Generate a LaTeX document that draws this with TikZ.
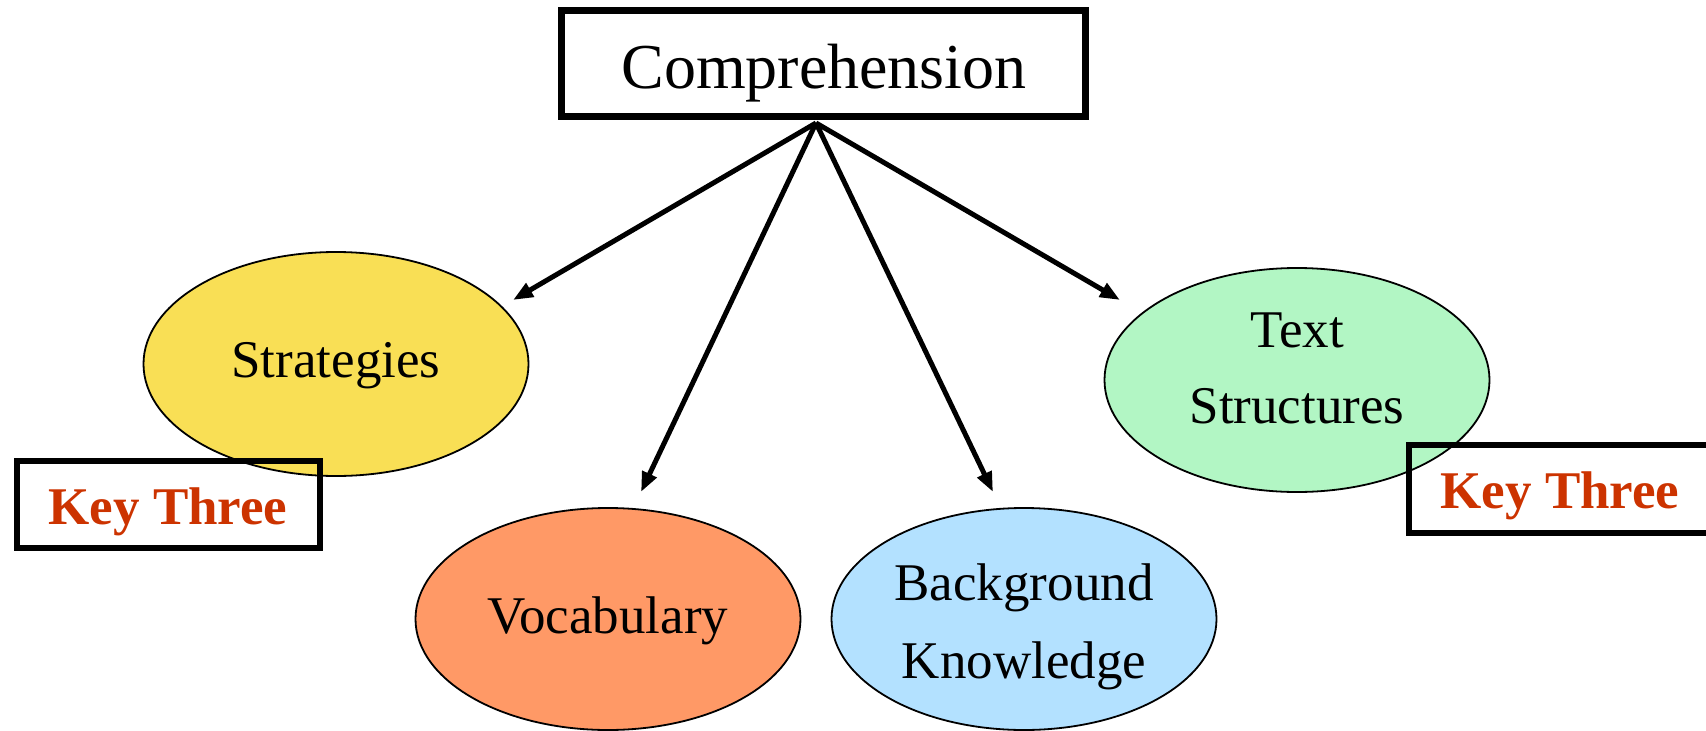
\documentclass[tikz,border=0pt]{standalone}
\usepackage{fontspec}
\setmainfont{Liberation Serif}
\usetikzlibrary{shapes.geometric,arrows.meta}

\definecolor{stratfill}{HTML}{F9DF55}
\definecolor{vocabfill}{HTML}{FF9966}
\definecolor{bgfill}{HTML}{B3E1FF}
\definecolor{textfill}{HTML}{B2F6C4}
\definecolor{keyred}{RGB}{204,51,0}

\begin{document}
\begin{tikzpicture}[x=1pt,y=-1pt,
  bubble/.style={ellipse, draw=black, line width=1.8pt, inner sep=0pt,
                 minimum width=385pt, minimum height=224pt},
  titlebox/.style={draw=black, line width=7pt, inner sep=0pt, fill=white},
  keybox/.style={draw=black, line width=6pt, inner sep=0pt},
  caption/.style={font=\fontsize{53}{60}\selectfont, anchor=base, inner sep=0pt},
  keytext/.style={font=\fontsize{53}{60}\selectfont\bfseries, text=keyred,
                  anchor=base, inner sep=0pt},
  link/.style={line width=5pt, -{Triangle[length=20pt,width=15pt]}}
]
\useasboundingbox (0,0) rectangle (1706,731);

% title box
\node[titlebox, minimum width=524pt, minimum height=106pt] (comp) at (823.5,63.5) {};
\node[anchor=base, inner sep=0pt, font=\fontsize{64}{70}\selectfont] (comptext) at (824,88) {Comprehension};

% the four components
\node[bubble, fill=stratfill] (strat) at (336,364) {};
\node[bubble, fill=textfill] (tstruct) at (1297,380) {};
\node[bubble, fill=vocabfill, minimum height=222pt] (vocab) at (608,619) {};
\node[bubble, fill=bgfill, minimum height=222pt] (bgk) at (1024,619) {};

\node[caption] (strattext) at (336,377) {Strategies};
\node[caption] (tstruct1) at (1297,347) {Text};
\node[caption] (tstruct2) at (1297,423) {Structures};
\node[caption] (vocabtext) at (608,633) {Vocabulary};
\node[caption] (bgk1) at (1024,600) {Background};
\node[caption] (bgk2) at (1024,678) {Knowledge};

% "Key Three" markers
\node[keybox, minimum width=303pt, minimum height=87pt] (keyL) at (168.5,504.5) {};
\node[keybox, minimum width=311pt, minimum height=88pt] (keyR) at (1564.5,489) {};
\node[keytext] (keyLtext) at (168,524) {Key Three};
\node[keytext] (keyRtext) at (1560,508) {Key Three};

% arrows fanning out from under the title
\coordinate (hub) at (816,123);
\coordinate (tipS) at (513,300);
\coordinate (tipV) at (641,492);
\coordinate (tipB) at (993,492);
\coordinate (tipT) at (1120,300);
\draw[link] (hub) -- (tipS);
\draw[link] (hub) -- (tipV);
\draw[link] (hub) -- (tipB);
\draw[link] (hub) -- (tipT);
\end{tikzpicture}
\end{document}
